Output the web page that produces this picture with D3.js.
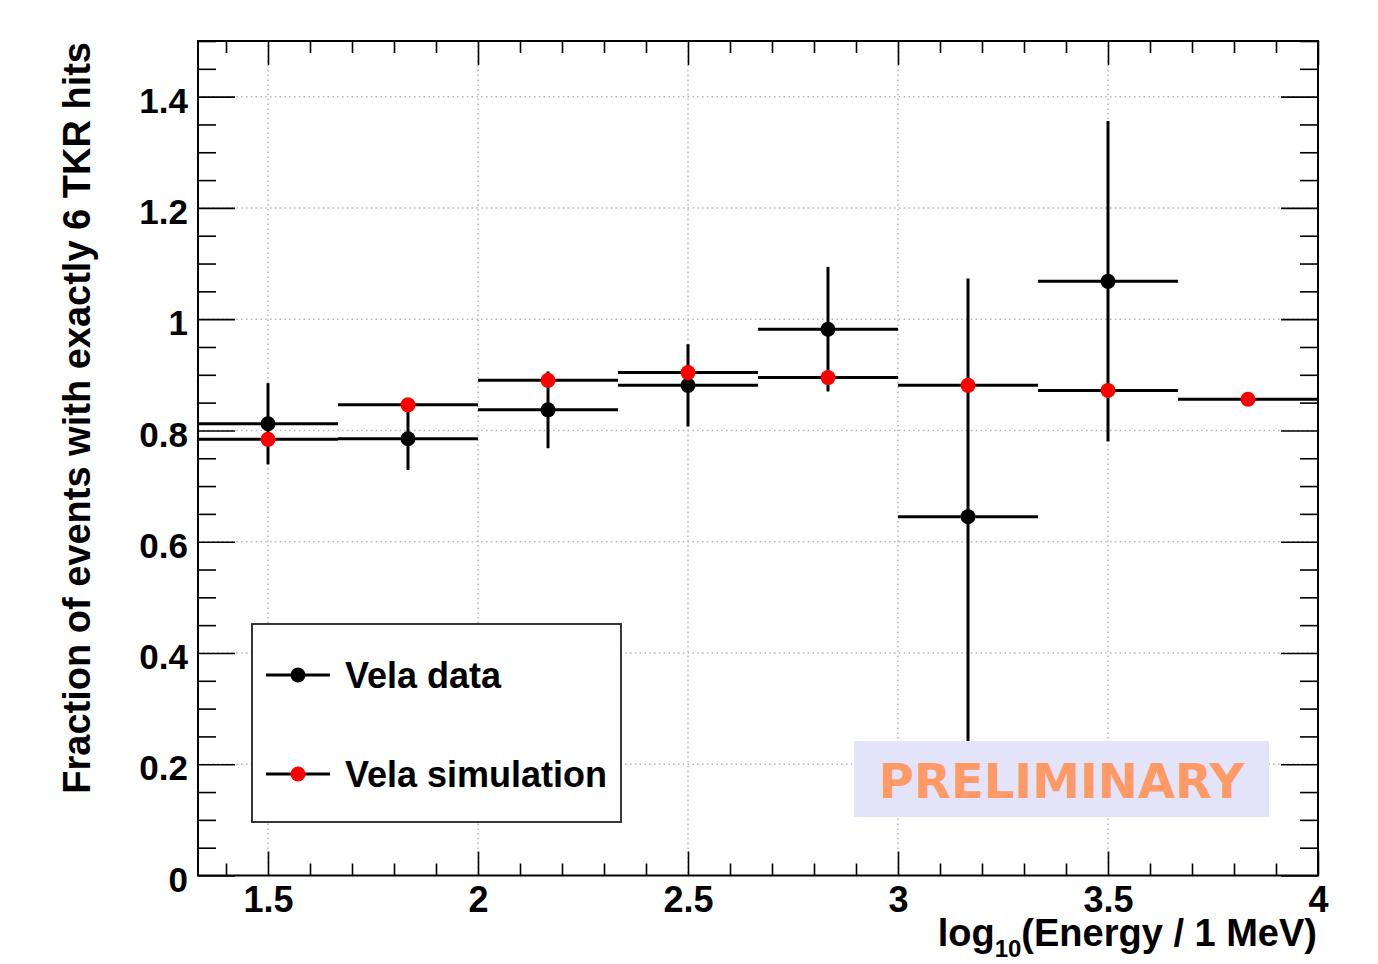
<!DOCTYPE html>
<html>
<head>
<meta charset="utf-8">
<script src="https://cdn.jsdelivr.net/npm/d3@7"></script>
<style>
  body { margin: 0; background: #fff; }
  svg { display: block; font-family: "Liberation Sans", Arial, sans-serif; font-weight: bold; }
</style>
</head>
<body>
<div id="graph"></div>
<script>
// bins in log10(E / 1 MeV)
const binLow = [1.3333, 1.6667, 2.0, 2.3333, 2.6667, 3.0, 3.3333, 3.6667];
const binHigh = [1.6667, 2.0, 2.3333, 2.6667, 3.0, 3.3333, 3.6667, 4.0];
const binCenter = [1.5, 1.8333, 2.1667, 2.5, 2.8333, 3.1667, 3.5, 3.8333];

// Vela data (black) - last bin is empty
const dataValues = [0.812, 0.785, 0.837, 0.881, 0.982, 0.645, 1.068, null];
const dataErrors = [0.073, 0.056, 0.069, 0.074, 0.112, 0.428, 0.288, null];

// Vela simulation (red)
const simValues = [0.784, 0.846, 0.890, 0.904, 0.895, 0.881, 0.872, 0.856];
const simErrors = [0, 0, 0, 0, 0, 0, 0, 0];

const xMajor = [1.5, 2, 2.5, 3, 3.5, 4];
const yMajor = [0, 0.2, 0.4, 0.6, 0.8, 1, 1.2, 1.4];
const legendLabels = ["Vela data", "Vela simulation"];

// set the dimensions and margins of the graph
const margin = { top: 41, right: 60, bottom: 88.5, left: 198 },
  width = 1378 - margin.left - margin.right,
  height = 964 - margin.top - margin.bottom;

const svgRoot = d3.select("#graph")
  .append("svg")
  .attr("width", 1378)
  .attr("height", 964);

const svg = svgRoot.append("g")
  .attr("transform", "translate(" + margin.left + "," + margin.top + ")");

const x = d3.scaleLinear().domain([4 / 3, 4]).range([0, width]);
const y = d3.scaleLinear().domain([0, 1.5]).range([height, 0]);

// minor ticks
const xMinor = d3.range(14, 41).map(d => d / 10).filter(d => !xMajor.some(m => Math.abs(m - d) < 1e-6));
const yMinor = d3.range(0, 31).map(d => d * 0.05).filter(d => !yMajor.some(m => Math.abs(m - d) < 1e-6));

// dotted grid
const grid = svg.append("g").attr("class", "grid")
  .attr("stroke", "#b4b4b4")
  .attr("stroke-width", 1.5)
  .attr("stroke-dasharray", "1.5,3.3");
grid.selectAll("gx").data(xMajor.filter(d => d < 4)).enter().append("line")
  .attr("x1", d => x(d)).attr("x2", d => x(d))
  .attr("y1", 0).attr("y2", height);
grid.selectAll("gy").data(yMajor.filter(d => d > 0)).enter().append("line")
  .attr("x1", 0).attr("x2", width)
  .attr("y1", d => y(d)).attr("y2", d => y(d));

// draws one series: horizontal bin bars, vertical error bars, markers
function drawSeries(values, errors, color) {
  const pts = values.map((v, i) => ({ v: v, e: errors[i], lo: binLow[i], hi: binHigh[i], c: binCenter[i] }))
    .filter(d => d.v !== null);
  const g = svg.append("g");
  g.selectAll("hbar").data(pts).enter().append("line")
    .attr("x1", d => x(d.lo)).attr("x2", d => x(d.hi))
    .attr("y1", d => y(d.v)).attr("y2", d => y(d.v))
    .attr("stroke", "#000").attr("stroke-width", 3);
  g.selectAll("vbar").data(pts.filter(d => d.e > 0)).enter().append("line")
    .attr("x1", d => x(d.c)).attr("x2", d => x(d.c))
    .attr("y1", d => y(d.v + d.e)).attr("y2", d => y(d.v - d.e))
    .attr("stroke", "#000").attr("stroke-width", 3);
  g.selectAll("dot").data(pts).enter().append("circle")
    .attr("cx", d => x(d.c)).attr("cy", d => y(d.v))
    .attr("r", 7.5)
    .attr("fill", color);
}

drawSeries(dataValues, dataErrors, "#000");
drawSeries(simValues, simErrors, "#ff0000");

// legend
const legend = svgRoot.append("g").attr("transform", "translate(252,624)");
legend.append("rect")
  .attr("width", 369).attr("height", 198)
  .attr("fill", "#fff").attr("stroke", "#222").attr("stroke-width", 1.8);
const legendColors = ["#000", "#ff0000"];
legendLabels.forEach((label, i) => {
  const ly = 51 + i * 99;
  legend.append("line")
    .attr("x1", 14).attr("x2", 78).attr("y1", ly).attr("y2", ly)
    .attr("stroke", "#000").attr("stroke-width", 3);
  legend.append("circle").attr("cx", 46).attr("cy", ly).attr("r", 7.5).attr("fill", legendColors[i]);
  legend.append("text")
    .attr("x", 93).attr("y", ly + 13)
    .style("font-size", "36px")
    .text(label);
});

// PRELIMINARY stamp
const stamp = svgRoot.append("g");
stamp.append("rect")
  .attr("x", 854).attr("y", 741).attr("width", 415).attr("height", 76)
  .attr("fill", "#e3e3fa");
stamp.append("text")
  .attr("x", 1061.5).attr("y", 798)
  .attr("text-anchor", "middle")
  .style("font-family", "'DejaVu Sans', sans-serif")
  .style("font-size", "48px")
  .style("font-weight", "bold")
  .attr("fill", "#ff9a66")
  .text("PRELIMINARY");

// axes, ROOT style ticks on all four sides
function styleAxis(g) {
  g.select(".domain").remove();
  g.selectAll(".tick line").attr("stroke", "#000").attr("stroke-width", 1.6);
}

svg.append("g").attr("transform", "translate(0," + height + ")")
  .call(d3.axisBottom(x).tickValues(xMinor).tickSize(-12).tickFormat(""))
  .call(styleAxis);
svg.append("g")
  .call(d3.axisTop(x).tickValues(xMinor).tickSize(-12).tickFormat(""))
  .call(styleAxis);
svg.append("g")
  .call(d3.axisTop(x).tickValues(xMajor).tickSize(-24).tickFormat(""))
  .call(styleAxis);
const xAxis = svg.append("g").attr("transform", "translate(0," + height + ")")
  .call(d3.axisBottom(x).tickValues(xMajor).tickSize(-24).tickFormat(d3.format("")))
  .call(styleAxis);
xAxis.selectAll(".tick text")
  .attr("y", 36).attr("dy", null)
  .style("font-size", "36px").style("font-weight", "bold")
  .attr("fill", "#000")
  .style("font-family", "'Liberation Sans', Arial, sans-serif");

svg.append("g")
  .call(d3.axisLeft(y).tickValues(yMinor).tickSize(-18).tickFormat(""))
  .call(styleAxis);
svg.append("g").attr("transform", "translate(" + width + ",0)")
  .call(d3.axisRight(y).tickValues(yMinor).tickSize(-18).tickFormat(""))
  .call(styleAxis);
svg.append("g").attr("transform", "translate(" + width + ",0)")
  .call(d3.axisRight(y).tickValues(yMajor).tickSize(-37).tickFormat(""))
  .call(styleAxis);
const yAxis = svg.append("g")
  .call(d3.axisLeft(y).tickValues(yMajor).tickSize(-37).tickFormat(d3.format("")))
  .call(styleAxis);
yAxis.selectAll(".tick text")
  .attr("x", -10).attr("dy", "0.45em")
  .style("font-size", "35px").style("font-weight", "bold")
  .attr("fill", "#000")
  .style("font-family", "'Liberation Sans', Arial, sans-serif");

// frame
svg.append("rect")
  .attr("width", width).attr("height", height)
  .attr("fill", "none").attr("stroke", "#000").attr("stroke-width", 2);

// axis titles
const xTitle = svgRoot.append("text")
  .attr("x", 1317).attr("y", 946)
  .attr("text-anchor", "end")
  .style("font-size", "38px");
xTitle.append("tspan").text("log");
xTitle.append("tspan").attr("dy", 11).style("font-size", "24px").text("10");
xTitle.append("tspan").attr("dy", -11).text("(Energy / 1 MeV)");

svgRoot.append("text")
  .attr("transform", "translate(90,42) rotate(-90)")
  .attr("text-anchor", "end")
  .style("font-size", "38px")
  .text("Fraction of events with exactly 6 TKR hits");
</script>
</body>
</html>
